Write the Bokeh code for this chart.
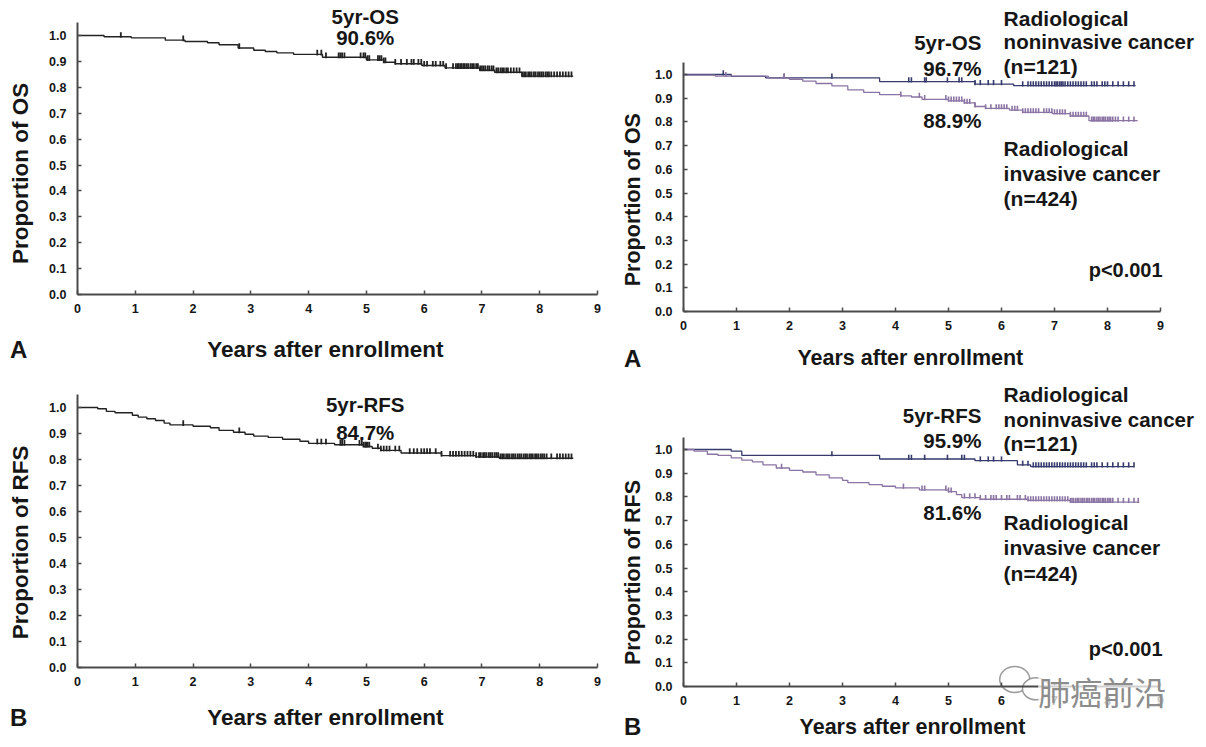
import numpy as np
from bokeh.plotting import figure
from bokeh.models import (Label, FixedTicker, PrintfTickFormatter, Range1d,
                          LinearAxis)
from bokeh.embed import file_html
from bokeh.resources import INLINE

# ---------------- data ----------------
x_ticks = [0, 1, 2, 3, 4, 5, 6, 7, 8, 9]
y_ticks = [0.0, 0.1, 0.2, 0.3, 0.4, 0.5, 0.6, 0.7, 0.8, 0.9, 1.0]

# Panel A (left): overall survival, all patients
os_t = [0, 0.46, 0.93, 1.52, 1.86, 2.25, 2.45, 2.78, 3.05, 3.25, 3.45, 3.74, 4.24,
        5.0, 5.3, 5.5, 5.96, 6.36, 6.96, 7.22, 7.69, 8.58]
os_s = [1.0, 0.995, 0.991, 0.982, 0.977, 0.972, 0.964, 0.952, 0.943, 0.938, 0.933,
        0.927, 0.916, 0.906, 0.897, 0.891, 0.884, 0.875, 0.866, 0.858, 0.843, 0.843]
os_cens = [0.75, 1.83, 2.8, 4.15, 4.22, 4.3, 4.52, 4.55, 4.58, 4.62, 4.9, 4.95, 4.98,
           5.02, 5.05, 5.2, 5.23, 5.26, 5.3, 5.33, 5.5, 5.6, 5.7, 5.78, 5.82, 5.9,
           5.95, 6.0, 6.05, 6.15, 6.2, 6.28, 6.33, 6.38, 6.5, 6.55, 6.58, 6.6, 6.63,
           6.65, 6.68, 6.7, 6.73, 6.76, 6.8, 6.83, 6.86, 6.9, 6.93, 6.97, 7.0, 7.03,
           7.06, 7.1, 7.13, 7.17, 7.2, 7.25, 7.28, 7.32, 7.35, 7.38, 7.42, 7.45, 7.5,
           7.55, 7.6, 7.65, 7.7, 7.73, 7.76, 7.8, 7.83, 7.86, 7.9, 7.93, 7.97, 8.0,
           8.03, 8.06, 8.1, 8.13, 8.16, 8.2, 8.25, 8.3, 8.35, 8.4, 8.45, 8.5, 8.55]

# Panel B (left): recurrence-free survival, all patients
rfs_t = [0, 0.35, 0.5, 0.65, 0.95, 1.05, 1.2, 1.35, 1.5, 1.6, 2.0, 2.3, 2.45, 2.7,
         2.9, 3.05, 3.3, 3.55, 3.85, 4.0, 4.45, 4.95, 5.1, 5.25, 5.6, 6.3, 6.9, 7.3, 8.58]
rfs_s = [1.0, 0.995, 0.985, 0.98, 0.97, 0.963, 0.957, 0.95, 0.94, 0.933, 0.928, 0.922,
         0.912, 0.905, 0.897, 0.89, 0.885, 0.878, 0.87, 0.862, 0.857, 0.85, 0.843,
         0.835, 0.825, 0.815, 0.81, 0.805, 0.805]
rfs_cens = [1.83, 2.8, 4.15, 4.22, 4.3, 4.55, 4.58, 4.62, 4.88, 4.92, 4.95, 4.98, 5.0,
            5.02, 5.05, 5.2, 5.25, 5.3, 5.35, 5.4, 5.5, 5.57, 5.75, 5.82, 5.88, 5.95,
            6.0, 6.05, 6.1, 6.2, 6.3, 6.45, 6.5, 6.55, 6.6, 6.65, 6.7, 6.75, 6.8, 6.85,
            6.9, 6.95, 6.98, 7.02, 7.05, 7.08, 7.12, 7.15, 7.18, 7.22, 7.25, 7.28, 7.32,
            7.35, 7.38, 7.42, 7.45, 7.48, 7.52, 7.55, 7.58, 7.62, 7.65, 7.68, 7.72,
            7.75, 7.78, 7.82, 7.85, 7.88, 7.92, 7.95, 7.98, 8.02, 8.05, 8.08, 8.12,
            8.2, 8.3, 8.35, 8.4, 8.45, 8.5, 8.55]

# Panel A (right): OS by radiological type
non_os_t = [0, 0.9, 1.55, 3.7, 5.5, 6.23, 8.53]
non_os_s = [1.0, 0.992, 0.986, 0.970, 0.959, 0.953, 0.953]
non_os_cens = [0.75, 1.9, 2.8, 4.25, 4.3, 4.55, 4.58, 4.98, 5.2, 5.25, 5.5, 5.6, 5.75,
               5.85, 6.0, 6.4, 6.5, 6.55, 6.6, 6.65, 6.7, 6.75, 6.8, 6.85, 6.9, 6.95,
               7.0, 7.03, 7.06, 7.1, 7.13, 7.16, 7.2, 7.25, 7.3, 7.35, 7.4, 7.45, 7.5,
               7.55, 7.6, 7.7, 7.75, 7.8, 7.9, 7.95, 8.0, 8.1, 8.2, 8.3, 8.4, 8.5]
inv_os_t = [0, 0.6, 1.6, 2.0, 2.25, 2.5, 2.8, 3.1, 3.4, 3.7, 4.1, 4.3, 4.5, 5.0, 5.3,
            5.5, 5.7, 6.15, 6.4, 6.96, 7.3, 7.65, 8.57]
inv_os_s = [0.997, 0.993, 0.985, 0.98, 0.972, 0.962, 0.952, 0.935, 0.925, 0.915, 0.91,
            0.905, 0.895, 0.889, 0.88, 0.865, 0.857, 0.85, 0.84, 0.835, 0.825, 0.805,
            0.805]
inv_os_cens = [0.8, 1.9, 4.1, 4.45, 4.55, 4.95, 5.0, 5.05, 5.1, 5.15, 5.2, 5.25, 5.3,
               5.35, 5.4, 5.5, 5.7, 5.8, 5.9, 5.95, 6.0, 6.05, 6.1, 6.2, 6.25, 6.3,
               6.4, 6.45, 6.5, 6.55, 6.6, 6.65, 6.7, 6.8, 6.85, 6.9, 6.95, 7.0, 7.05,
               7.1, 7.15, 7.2, 7.3, 7.35, 7.4, 7.45, 7.5, 7.55, 7.6, 7.7, 7.73, 7.76,
               7.8, 7.83, 7.86, 7.9, 7.93, 7.96, 8.0, 8.03, 8.06, 8.1, 8.15, 8.2, 8.3,
               8.4, 8.5]

# Panel B (right): RFS by radiological type
non_rfs_t = [0, 0.9, 1.1, 3.7, 5.5, 6.3, 6.55, 8.5]
non_rfs_s = [1.0, 0.993, 0.975, 0.96, 0.953, 0.935, 0.928, 0.928]
non_rfs_cens = [2.8, 4.25, 4.3, 4.55, 4.98, 5.25, 5.3, 5.6, 5.75, 5.85, 6.0, 6.4, 6.5,
                6.6, 6.65, 6.7, 6.75, 6.8, 6.85, 6.9, 6.95, 7.0, 7.05, 7.1, 7.15, 7.2,
                7.25, 7.3, 7.35, 7.4, 7.45, 7.5, 7.55, 7.6, 7.7, 7.75, 7.8, 7.9, 8.0,
                8.1, 8.2, 8.3, 8.4, 8.5]
inv_rfs_t = [0, 0.2, 0.45, 0.65, 0.9, 1.1, 1.3, 1.5, 1.75, 2.0, 2.25, 2.5, 2.75, 3.0,
             3.1, 3.5, 3.75, 4.0, 4.45, 5.0, 5.15, 5.25, 5.6, 6.5, 7.3, 8.6]
inv_rfs_s = [1.0, 0.993, 0.98, 0.975, 0.965, 0.955, 0.948, 0.935, 0.922, 0.912, 0.905,
             0.893, 0.88, 0.87, 0.86, 0.852, 0.845, 0.838, 0.83, 0.822, 0.81, 0.797,
             0.79, 0.785, 0.778, 0.778]
inv_rfs_cens = [1.85, 4.15, 4.5, 4.55, 4.95, 5.0, 5.05, 5.3, 5.4, 5.5, 5.6, 5.7, 5.8,
                5.85, 5.9, 6.0, 6.1, 6.15, 6.3, 6.35, 6.45, 6.5, 6.55, 6.6, 6.65, 6.7,
                6.75, 6.8, 6.85, 6.9, 6.95, 7.0, 7.05, 7.1, 7.15, 7.2, 7.25, 7.3, 7.33,
                7.36, 7.4, 7.43, 7.46, 7.5, 7.53, 7.56, 7.6, 7.63, 7.66, 7.7, 7.73,
                7.76, 7.8, 7.83, 7.86, 7.9, 7.93, 7.96, 8.0, 8.03, 8.06, 8.1, 8.2,
                8.3, 8.4, 8.5, 8.58]

# ---------------- styling / layout ----------------
BLACK = "#161616"
AXIS = "#4a4a4a"
NAVY = "#363a6c"
PURPLE = "#8b74a4"
FONT = "Liberation Sans"

W, H = 1198, 739
PX0, PY0 = 0, 0          # picture offset of the canvas

p = figure(width=W, height=H, output_backend="svg", toolbar_location=None,
           x_range=Range1d(0, W), y_range=Range1d(H, 0),
           x_axis_location=None, y_axis_location=None,
           min_border=0, min_border_left=0, min_border_right=0,
           min_border_top=0, min_border_bottom=0)
p.grid.visible = False
p.outline_line_color = None
p.background_fill_color = "white"
p.border_fill_color = "white"


def add_panel(name, x0px, x9px, y0px, y1px):
    """Calibrate a panel: pixel of x=0, x=9, y=0 and y=1.0."""
    sx = (x9px - x0px) / 9.0
    sy = (y0px - y1px) / 1.0
    p.extra_x_ranges[name + "x"] = Range1d((PX0 - x0px) / sx, (PX0 + W - x0px) / sx)
    p.extra_y_ranges[name + "y"] = Range1d((y0px - (PY0 + H)) / sy, (y0px - PY0) / sy)
    kw = dict(x_range_name=name + "x", y_range_name=name + "y")
    xa = LinearAxis(fixed_location=0, bounds=(0, 9), **kw)
    ya = LinearAxis(fixed_location=0, bounds=(0, 1.05), **kw)
    for ax in (xa, ya):
        ax.axis_line_color = AXIS
        ax.axis_line_width = 2
        ax.major_tick_line_color = AXIS
        ax.major_tick_line_width = 1.5
        ax.major_tick_in = 4
        ax.major_tick_out = 0
        ax.minor_tick_line_color = None
        ax.major_label_text_font = FONT
        ax.major_label_text_font_style = "bold"
        ax.major_label_text_font_size = "12.5px"
        ax.major_label_text_color = BLACK
    xa.ticker = FixedTicker(ticks=x_ticks)
    ya.ticker = FixedTicker(ticks=y_ticks)
    ya.formatter = PrintfTickFormatter(format="%.1f")
    xa.major_label_standoff = 9
    ya.major_label_standoff = 11
    p.add_layout(xa, "below")
    p.add_layout(ya, "left")
    return kw


def curve(kw, t, s, cens, color, width=1.3, tick_w=1.4):
    p.step(t, s, mode="after", line_color=color, line_width=width, **kw)
    t_arr = np.asarray(t)
    s_arr = np.asarray(s)
    c = np.asarray(cens)
    idx = np.searchsorted(t_arr, c, side="right") - 1
    sv = s_arr[idx]
    p.segment(x0=c, y0=sv - 0.004, x1=c, y1=sv + 0.018, line_color=color,
              line_width=tick_w, **kw)


def lab(kw, x, y, text, size="21px", align="center", color=BLACK, font=FONT,
        angle=0.0, style="bold", bg=None):
    p.add_layout(Label(x=x, y=y, text=text, text_align=align, text_baseline="middle",
                       text_font=font, text_font_size=size, text_font_style=style,
                       text_color=color, angle=angle, background_fill_color=bg,
                       background_fill_alpha=0.75, **kw))


# --- top-left ---
k1 = add_panel("tl", 77, 597, 294, 35)
curve(k1, os_t, os_s, os_cens, "#222222", 1.4, 1.8)
lab(k1, 4.98, 1.072, "5yr-OS", "20.5px")
lab(k1, 4.98, 0.993, "90.6%", "20.5px")
lab(k1, 4.29, -0.212, "Years after enrollment", "22.5px")
lab(k1, -0.99, 0.468, "Proportion of OS", "22.5px", angle=np.pi / 2)
lab(k1, -1.02, -0.212, "A", "24px")

# --- top-right ---
k2 = add_panel("tr", 683, 1160, 311, 74)
curve(k2, non_os_t, non_os_s, non_os_cens, NAVY, 1.3, 1.6)
curve(k2, inv_os_t, inv_os_s, inv_os_cens, PURPLE, 1.3, 1.6)
lab(k2, 5.62, 1.135, "5yr-OS", "20.5px", align="right")
lab(k2, 5.62, 1.025, "96.7%", "20.5px", align="right")
lab(k2, 5.62, 0.806, "88.9%", "20.5px", align="right")
lab(k2, 6.04, 1.238, "Radiological", "21px", align="left")
lab(k2, 6.04, 1.139, "noninvasive cancer", "20.5px", align="left")
lab(k2, 6.04, 1.034, "(n=121)", "21px", align="left")
lab(k2, 6.04, 0.688, "Radiological", "21px", align="left")
lab(k2, 6.04, 0.582, "invasive cancer", "21px", align="left")
lab(k2, 6.04, 0.477, "(n=424)", "21px", align="left")
lab(k2, 9.04, 0.173, "p<0.001", "20px", align="right")
lab(k2, 4.28, -0.198, "Years after enrollment", "21.5px")
lab(k2, -0.96, 0.472, "Proportion of OS", "21.5px", angle=np.pi / 2)
lab(k2, -0.96, -0.198, "A", "24px")

# --- bottom-left ---
k3 = add_panel("bl", 77, 597, 667, 407)
curve(k3, rfs_t, rfs_s, rfs_cens, "#222222", 1.4, 1.8)
lab(k3, 4.98, 1.012, "5yr-RFS", "20.5px")
lab(k3, 4.98, 0.904, "84.7%", "20.5px")
lab(k3, 4.29, -0.192, "Years after enrollment", "22.5px")
lab(k3, -0.99, 0.481, "Proportion of RFS", "22.5px", angle=np.pi / 2)
lab(k3, -1.02, -0.192, "B", "24px")

# --- bottom-right ---
k4 = add_panel("br", 683, 1160, 686, 449)
curve(k4, non_rfs_t, non_rfs_s, non_rfs_cens, NAVY, 1.3, 1.6)
curve(k4, inv_rfs_t, inv_rfs_s, inv_rfs_cens, PURPLE, 1.3, 1.6)
lab(k4, 5.62, 1.143, "5yr-RFS", "20.5px", align="right")
lab(k4, 5.62, 1.038, "95.9%", "20.5px", align="right")
lab(k4, 5.62, 0.734, "81.6%", "20.5px", align="right")
lab(k4, 6.04, 1.232, "Radiological", "21px", align="left")
lab(k4, 6.04, 1.127, "noninvasive cancer", "20.5px", align="left")
lab(k4, 6.04, 1.025, "(n=121)", "21px", align="left")
lab(k4, 6.04, 0.692, "Radiological", "21px", align="left")
lab(k4, 6.04, 0.586, "invasive cancer", "21px", align="left")
lab(k4, 6.04, 0.477, "(n=424)", "21px", align="left")
lab(k4, 9.04, 0.160, "p<0.001", "20px", align="right")
lab(k4, 4.32, -0.169, "Years after enrollment", "21.5px")
lab(k4, -0.96, 0.481, "Proportion of RFS", "21.5px", angle=np.pi / 2)
lab(k4, -0.96, -0.169, "B", "24px")

# watermark (speech-bubble icon + text)
p.ellipse(x=[6.25, 6.65], y=[0.03, -0.01], width=[30, 27], height=[26, 22],
          width_units="screen", height_units="screen", fill_color="white",
          line_color="#9a9a9a", line_width=1.5, **k4)
lab(k4, 7.9, -0.018, "肺癌前沿", "32px", color="#8c8c8c",
    font="Noto Sans CJK SC", style="normal", bg="white")

open("out.html", "w").write(file_html(p, INLINE))
